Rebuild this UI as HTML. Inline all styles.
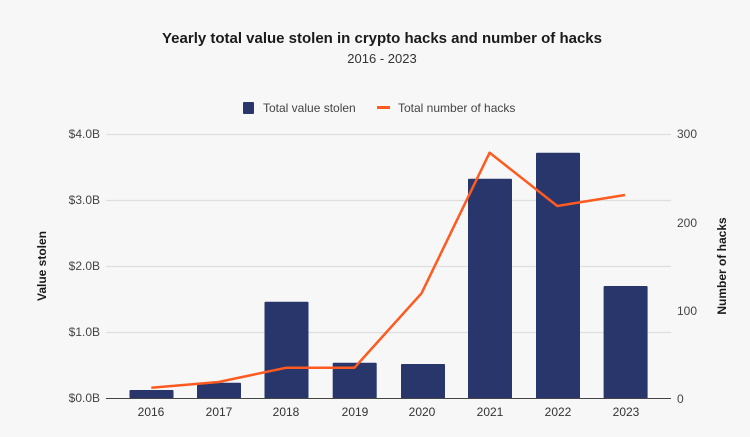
<!DOCTYPE html>
<html><head><style>
html,body{margin:0;padding:0;background:#f7f7f7;}
svg{display:block;font-family:"Liberation Sans",sans-serif;}
</style></head><body>
<svg width="750" height="437" viewBox="0 0 750 437" xmlns="http://www.w3.org/2000/svg">
<rect width="750" height="437" fill="#f7f7f7"/>
<text x="382" y="43" text-anchor="middle" font-size="15" font-weight="bold" fill="#1a1a1a" textLength="440" lengthAdjust="spacingAndGlyphs">Yearly total value stolen in crypto hacks and number of hacks</text>
<text x="382" y="63" text-anchor="middle" font-size="13" fill="#333">2016 - 2023</text>
<rect x="243" y="102" width="11" height="12" rx="1" fill="#29366b"/>
<text x="263" y="112" font-size="12" fill="#444">Total value stolen</text>
<rect x="377" y="106" width="13" height="3" fill="#ff5a1f"/>
<text x="398" y="112" font-size="12" fill="#444">Total number of hacks</text>
<g stroke="#dedede" stroke-width="1.2">
<line x1="106" y1="134.5" x2="671" y2="134.5"/>
<line x1="106" y1="200.5" x2="671" y2="200.5"/>
<line x1="106" y1="266.5" x2="671" y2="266.5"/>
<line x1="106" y1="332.5" x2="671" y2="332.5"/>
</g>
<g font-size="12" fill="#444" text-anchor="end">
<text x="100" y="138">$4.0B</text>
<text x="100" y="204">$3.0B</text>
<text x="100" y="270">$2.0B</text>
<text x="100" y="336">$1.0B</text>
<text x="100" y="402">$0.0B</text>
</g>
<g font-size="12" fill="#444">
<text x="677" y="138">300</text>
<text x="677" y="227">200</text>
<text x="677" y="315">100</text>
<text x="677" y="403">0</text>
</g>
<g fill="#29366b">
<rect x="129.5" y="390" width="44" height="8.5" rx="1"/>
<rect x="197" y="382.7" width="44" height="15.8" rx="1"/>
<rect x="264.5" y="301.7" width="44" height="96.8" rx="1"/>
<rect x="332.7" y="362.7" width="44" height="35.8" rx="1"/>
<rect x="401" y="364" width="44" height="34.5" rx="1"/>
<rect x="468" y="178.7" width="44" height="219.8" rx="1"/>
<rect x="536" y="152.7" width="44" height="245.8" rx="1"/>
<rect x="603.6" y="286" width="44" height="112.5" rx="1"/>
</g>
<line x1="106" y1="398.5" x2="671" y2="398.5" stroke="#444" stroke-width="1"/>
<polyline fill="none" stroke="#ff5a1f" stroke-width="2.5" stroke-linejoin="round" points="151.3,387.7 218.6,382 286.4,367.7 354.5,367.7 421.5,293.3 489.6,152.7 557.3,206 625,195"/>
<g font-size="12" fill="#333" text-anchor="middle">
<text x="151" y="416">2016</text>
<text x="219" y="416">2017</text>
<text x="286" y="416">2018</text>
<text x="355" y="416">2019</text>
<text x="422" y="416">2020</text>
<text x="490" y="416">2021</text>
<text x="558" y="416">2022</text>
<text x="626" y="416">2023</text>
</g>
<text transform="translate(46,266) rotate(-90)" text-anchor="middle" font-size="12" font-weight="bold" fill="#1a1a1a">Value stolen</text>
<text transform="translate(726,266) rotate(-90)" text-anchor="middle" font-size="12" font-weight="bold" fill="#1a1a1a">Number of hacks</text>
</svg>
</body></html>
